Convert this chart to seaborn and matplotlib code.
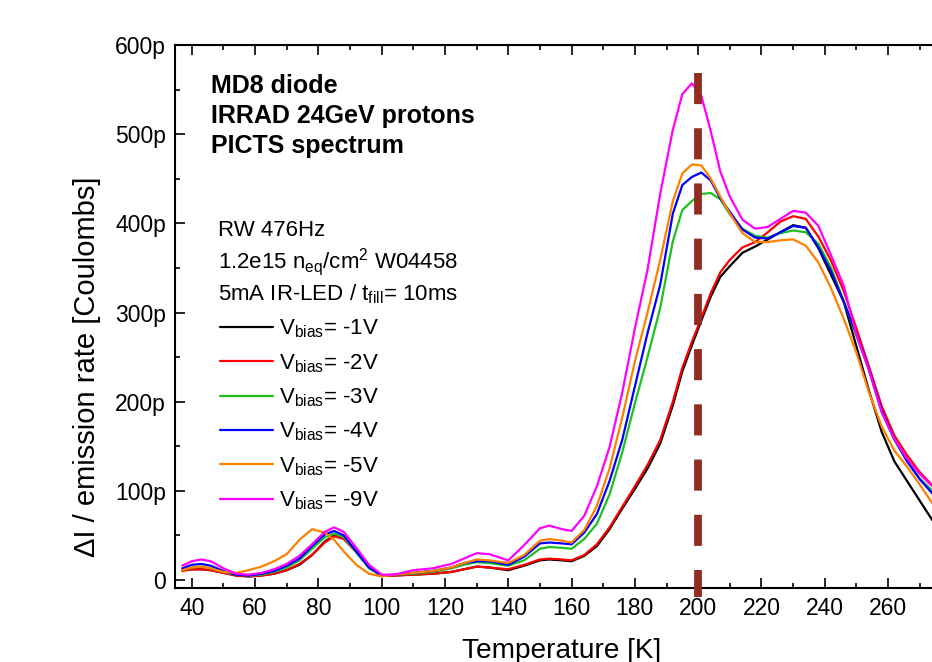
import numpy as np
import pandas as pd
import matplotlib
matplotlib.use("Agg")
import matplotlib.pyplot as plt
from matplotlib.ticker import MultipleLocator, FuncFormatter
import seaborn as sns

# ---------------- data (values in pC, temperature in K) ----------------
temperature_K = [37, 40, 43, 46, 50, 54, 58, 62, 66, 70, 74, 78, 82, 85, 88, 92, 96, 100,
                 104, 110, 116, 122, 126, 130, 134, 140, 145, 150, 153, 157, 160, 164, 168,
                 172, 176, 180, 184, 188, 192, 195, 198, 201, 204, 207, 210, 214, 218, 222,
                 226, 230, 234, 238, 242, 246, 250, 254, 258, 262, 266, 270, 274]

vbias_m1V = [11, 12, 12, 11, 8, 5, 4, 5, 7, 11, 17, 28, 43, 50, 47, 32, 14, 5,
             5, 6, 7, 9, 12, 15, 14, 11, 16, 22, 23, 22, 21, 27, 38,
             57, 80, 102, 125, 153, 196, 234, 263, 291, 318, 340, 352, 367, 374, 382,
             390, 398, 395, 372, 342, 312, 262, 212, 166, 133, 111, 89, 67]
vbias_m2V = [10, 12, 12, 11, 8, 5, 4, 5, 7, 11, 18, 28, 42, 49, 46, 31, 14, 5,
             5, 6, 7, 9, 12, 15, 14, 12, 17, 23, 24, 23, 22, 28, 40,
             59, 82, 105, 129, 157, 200, 238, 267, 294, 322, 345, 359, 373, 379, 390,
             402, 408, 405, 385, 358, 324, 282, 239, 195, 162, 140, 121, 106]
vbias_m3V = [11, 14, 15, 13, 9, 6, 5, 6, 9, 14, 22, 35, 48, 52, 48, 31, 13, 5,
             6, 7, 9, 13, 17, 20, 19, 16, 22, 35, 37, 36, 35, 46, 63,
             96, 143, 198, 250, 305, 380, 415, 425, 433, 434, 427, 410, 394, 386, 384,
             389, 392, 390, 377, 350, 313, 274, 235, 188, 157, 134, 114, 100]
vbias_m4V = [13, 17, 18, 16, 10, 6, 5, 7, 10, 16, 24, 38, 51, 55, 50, 32, 14, 5,
             6, 8, 10, 14, 19, 21, 21, 17, 26, 41, 42, 41, 40, 53, 74,
             111, 157, 217, 277, 331, 411, 443, 452, 457, 448, 428, 413, 393, 384, 383,
             390, 397, 395, 373, 346, 312, 276, 236, 190, 158, 133, 113, 97]
vbias_m5V = [11, 14, 15, 13, 9, 8, 11, 15, 21, 29, 45, 57, 53, 45, 32, 17, 7, 4,
             6, 8, 10, 14, 19, 23, 22, 19, 28, 44, 46, 44, 42, 56, 83,
             125, 182, 245, 300, 359, 425, 456, 466, 465, 450, 430, 411, 389, 379, 379,
             381, 382, 375, 356, 327, 293, 255, 210, 172, 145, 127, 107, 86]
vbias_m9V = [16, 21, 23, 21, 13, 7, 6, 8, 12, 18, 27, 40, 54, 59, 54, 36, 17, 6,
             6, 11, 13, 18, 24, 30, 29, 22, 39, 58, 61, 57, 55, 72, 105,
             149, 210, 282, 348, 433, 505, 545, 557, 543, 503, 458, 430, 404, 394, 396,
             405, 414, 412, 397, 364, 330, 275, 235, 188, 158, 136, 119, 105]

series_labels = [r"V$_{\mathrm{bias}}$= -1V", r"V$_{\mathrm{bias}}$= -2V", r"V$_{\mathrm{bias}}$= -3V",
                 r"V$_{\mathrm{bias}}$= -4V", r"V$_{\mathrm{bias}}$= -5V", r"V$_{\mathrm{bias}}$= -9V"]
series_colors = ["#000000", "#FF0000", "#1DC01D", "#0000FF", "#FF8000", "#FF00FF"]

x_ticks = [40, 60, 80, 100, 120, 140, 160, 180, 200, 220, 240, 260, 280]
y_ticks = [0, 100, 200, 300, 400, 500, 600]

marker_T = [200, 200]
marker_span = [569, -19]

title_lines = ["MD8 diode", "IRRAD 24GeV protons", "PICTS spectrum"]
info_lines = ["RW 476Hz", r"1.2e15 n$_{\mathrm{eq}}$/cm$^{2}$ W04458",
              r"5mA IR-LED / t$_{\mathrm{fill}}$= 10ms"]

x_label = "Temperature [K]"
y_label = "ΔI / emission rate [Coulombs]"

# ---------------- build table ----------------
all_series = [vbias_m1V, vbias_m2V, vbias_m3V, vbias_m4V, vbias_m5V, vbias_m9V]
frames = []
for lab, vals in zip(series_labels, all_series):
    frames.append(pd.DataFrame({"T": temperature_K, "Q": vals, "series": lab}))
df = pd.concat(frames, ignore_index=True)

# ---------------- style ----------------
sns.set_style("white")
plt.rcParams["font.family"] = ["Liberation Sans", "DejaVu Sans"]
plt.rcParams["mathtext.fontset"] = "custom"
plt.rcParams["mathtext.rm"] = "Liberation Sans"
plt.rcParams["mathtext.it"] = "Liberation Sans:italic"
plt.rcParams["mathtext.bf"] = "Liberation Sans:bold"
for key in ["text.color", "axes.labelcolor", "xtick.color", "ytick.color", "axes.edgecolor"]:
    plt.rcParams[key] = "black"

fig = plt.figure(figsize=(9.32, 6.62), dpi=100)
ax = fig.add_axes([0.18777, 0.11178, 0.8330, 0.8202])

sns.lineplot(data=df, x="T", y="Q", hue="series", hue_order=series_labels,
             palette=series_colors, estimator=None, linewidth=1.6, ax=ax, legend=True)

ax.plot(marker_T, marker_span, color="#922B21", linewidth=5.6,
        dashes=(4.0, 3.1), solid_capstyle="butt", dash_capstyle="butt",
        clip_on=False, zorder=5)

ax.set_xlim(34.7, 280)
ax.set_ylim(-9, 600)

ax.set_xticks(x_ticks)
ax.set_yticks(y_ticks)
ax.xaxis.set_minor_locator(MultipleLocator(10))
ax.yaxis.set_minor_locator(MultipleLocator(50))
ax.yaxis.set_major_formatter(FuncFormatter(lambda v, p: "0" if v == 0 else f"{v:g}p"))

for s in ax.spines.values():
    s.set_linewidth(1.5)
    s.set_color("black")

ax.tick_params(which="both", direction="in", top=True, right=True, bottom=True, left=True,
               colors="black", width=1.2)
ax.tick_params(which="major", length=7.2, labelsize=16.5, pad=6.5)
ax.tick_params(which="minor", length=3.6)

ax.set_xlabel(x_label, fontsize=20.2)
ax.set_ylabel(y_label, fontsize=21)
ax.xaxis.set_label_coords(0.4985, -0.0915)
ax.yaxis.set_label_coords(-0.095, 0.4076)

# title block (bold)
for i, line in enumerate(title_lines):
    ax.text(0.0464, 0.911 - i * 0.0545, line, transform=ax.transAxes,
            fontsize=18, fontweight="bold", va="baseline", ha="left")

# info block
for i, line in enumerate(info_lines):
    ax.text(0.0554, 0.6483 - i * 0.0590, line, transform=ax.transAxes,
            fontsize=16, va="baseline", ha="left")

handles, labels = ax.get_legend_handles_labels()
leg = ax.legend(handles, labels, loc="upper left", bbox_to_anchor=(0.058, 0.498),
                frameon=False, fontsize=16, handlelength=2.4, handletextpad=0.25,
                labelspacing=0.53, borderpad=0, borderaxespad=0)
for h in leg.get_lines():
    h.set_linewidth(1.6)

fig.savefig("out.png", dpi=100)
